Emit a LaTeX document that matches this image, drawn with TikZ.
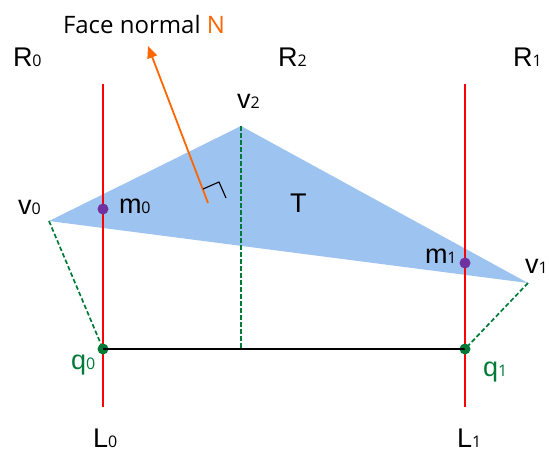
\documentclass[tikz,border=0pt]{standalone}
\usepackage{fontspec}
\setmainfont{Liberation Sans}
\newfontfamily\opensans{Open Sans}
\usetikzlibrary{arrows.meta}
\definecolor{triblue}{RGB}{157,195,240}
\definecolor{dgreen}{RGB}{0,122,55}
\definecolor{purp}{RGB}{112,48,160}
\definecolor{orng}{RGB}{255,102,0}
\newcommand{\lbl}[2]{{\fontsize{27}{27}\selectfont #1}{\opensans\fontsize{16}{16}\selectfont #2}}
\begin{document}
\begin{tikzpicture}[x=1pt,y=-1pt,
  redline/.style={draw=red,line width=1.8pt},
  gdash/.style={draw=dgreen,line width=1.7pt,dash pattern=on 4.5pt off 2.5pt},
  lab/.style={anchor=base west,inner sep=0pt,outer sep=0pt},
  dot/.style={circle,inner sep=0pt,minimum size=11pt}]
\useasboundingbox (0,0) rectangle (549,453);
\coordinate (v0) at (49,221);
\coordinate (v1) at (528,283);
\coordinate (v2) at (241,126);
\fill[triblue] (v0) -- (v2) -- (v1) -- cycle;
\coordinate (r0t) at (103,84);
\coordinate (r0b) at (103,407);
\coordinate (r1t) at (465,84);
\coordinate (r1b) at (465,407);
\coordinate (p2) at (241,349);
\draw[redline] (r0t) -- (r0b);
\draw[redline] (r1t) -- (r1b);
\node[dot,fill=dgreen] (q0) at (103,349) {};
\node[dot,fill=dgreen] (q1) at (465,349) {};
\node[dot,fill=purp] (m0) at (103,209) {};
\node[dot,fill=purp] (m1) at (465,263) {};
\draw[line width=1.8pt] (q0.center) -- (q1.center);
\draw[gdash] (v0) -- (q0.center);
\draw[gdash] (v1) -- (q1.center);
\draw[gdash] (v2) -- (p2);
\coordinate (nb) at (208,203);
\coordinate (nt) at (148,46);
\draw[orng,line width=1.8pt,-{Triangle[length=12pt,width=10pt]}] (nb) -- (nt);
\coordinate (ra1) at (203,189);
\coordinate (ra2) at (219,182);
\coordinate (ra3) at (226,198);
\draw[line width=1.1pt] (ra1) -- (ra2) -- (ra3);
\node[lab] (fn) at (63,33) {\opensans\fontsize{24}{24}\selectfont Face normal \textcolor{orng}{N}};
\node[lab] (R0) at (13,66) {\lbl{R}{0}};
\node[lab] (R2) at (278,66) {\lbl{R}{2}};
\node[lab] (R1) at (513,66) {\lbl{R}{1}};
\node[lab] (lv2) at (237,108) {\lbl{v}{2}};
\node[lab] (lv0) at (18,214) {\lbl{v}{0}};
\node[lab] (lv1) at (525,273) {\lbl{v}{1}};
\node[lab] (lm0) at (119,213) {\lbl{m}{0}};
\node[lab] (lm1) at (425,263) {\lbl{m}{1}};
\node[lab] (T) at (290,212) {\fontsize{27}{27}\selectfont T};
\node[lab,text=dgreen] (lq0) at (71,369) {\lbl{q}{0}};
\node[lab,text=dgreen] (lq1) at (483,376) {\lbl{q}{1}};
\node[lab] (L0) at (93,447) {\lbl{L}{0}};
\node[lab] (L1) at (457,447) {\lbl{L}{1}};
\end{tikzpicture}
\end{document}
